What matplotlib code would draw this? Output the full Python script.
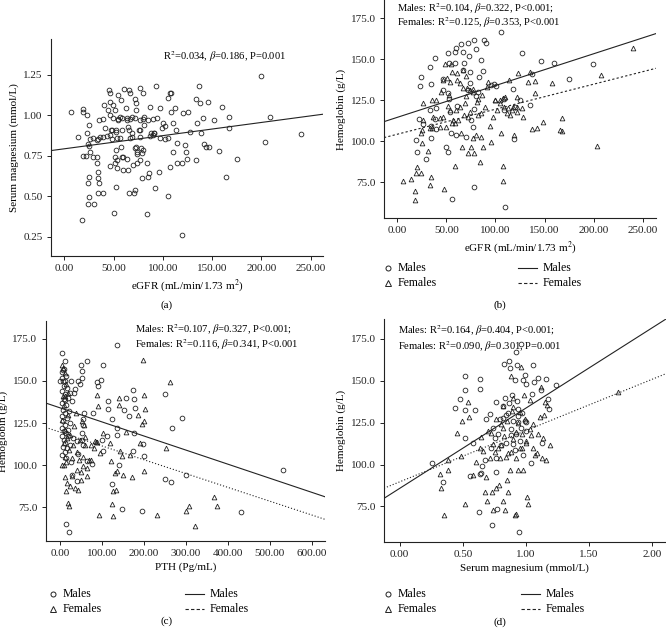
import matplotlib
matplotlib.use("Agg")
import matplotlib.pyplot as plt
from matplotlib.lines import Line2D
from matplotlib.ticker import FormatStrFormatter

plt.rcParams['font.family'] = ['Liberation Serif', 'DejaVu Serif']
plt.rcParams['mathtext.fontset'] = 'stix'
plt.rcParams['font.size'] = 8

# (a) eGFR vs serum magnesium
a_egfr = [6.4, 13.9, 18.6, 19.3, 22.7, 19.3, 22.0, 23.3, 25.4, 24.4,
          25.4, 26.0, 25.4, 24.4, 25.0, 23.7, 30.4, 18.3, 28.8, 32.8,
          32.8, 33.8, 33.8, 34.8, 33.8, 39.6, 32.8, 36.1, 35.5, 39.6,
          41.3, 43.0, 40.3, 44.7, 46.4, 45.4, 46.4, 46.0, 46.4, 48.1,
          49.7, 50.4, 51.4, 52.0, 53.0, 52.4, 51.4, 51.8, 53.0, 52.7,
          46.4, 54.1, 54.8, 56.5, 57.5, 57.2, 59.6, 59.2, 60.6, 62.6,
          63.3, 65.0, 65.0, 65.6, 66.0, 66.6, 68.3, 68.3, 69.4, 71.1,
          71.7, 71.7, 72.7, 72.4, 72.7, 73.4, 74.1, 76.8, 76.1, 77.8,
          78.5, 79.2, 80.2, 80.9, 81.2, 83.6, 83.6, 85.2, 86.3, 86.9,
          89.6, 91.0, 92.0, 92.7, 93.7, 96.4, 97.0, 98.8, 100.4, 102.1,
          104.9, 105.5, 105.5, 107.2, 108.8, 107.2, 107.9, 109.9, 110.6, 112.3,
          113.0, 114.0, 114.7, 119.1, 119.1, 120.8, 122.4, 123.1, 124.1, 125.8,
          128.1, 134.0, 134.0, 135.0, 136.3, 137.3, 139.0, 140.7, 141.3, 144.0,
          145.6, 147.3, 152.3, 157.4, 159.7, 164.0, 166.8, 167.5, 175.3, 199.3,
          203.6, 208.7, 239.9,
          49.7, 54.8, 58.2, 63.3, 66.7, 71.7, 76.8, 80.2, 85.2, 90.3,
          47.0, 52.0, 58.8, 65.5, 68.9, 77.3, 87.5, 90.8,
          26.0, 29.4, 34.5, 39.6, 48.0, 56.5, 66.6, 76.8, 87.0, 97.1, 102.1,
          71.7, 73.4, 80.2, 76.8, 53.2, 58.2, 63.3]
a_mg = [1.02, 0.863, 1.04, 1.018, 1.0, 0.75, 0.748, 0.888, 0.94, 0.822,
        0.81, 0.775, 0.62, 0.583, 0.497, 0.45, 0.45, 0.35, 0.744, 0.744,
        0.707, 0.651, 0.61, 0.58, 0.522, 0.522, 0.847, 0.867, 0.97, 0.974,
        0.919, 0.871, 1.063, 1.032, 0.878, 1.155, 1.139, 1.079, 1.0, 0.908,
        1.063, 0.394, 1.032, 0.898, 0.857, 0.785, 0.744, 0.703, 0.672, 0.559,
        0.688, 1.124, 0.97, 0.99, 1.094, 0.806, 0.74, 0.662, 1.16, 1.042,
        0.98, 0.929, 0.662, 0.522, 1.155, 1.135, 0.99, 0.867, 0.692, 0.522,
        0.538, 1.098, 1.073, 1.032, 0.806, 0.76, 0.707, 1.166, 0.908, 0.795,
        0.764, 0.61, 1.135, 0.99, 0.939, 0.39, 0.703, 0.62, 0.641, 1.052,
        0.878, 0.888, 0.552, 1.18, 0.98, 0.651, 1.042, 0.919, 0.95, 0.933,
        0.857, 1.104, 0.5, 1.135, 1.135, 0.682, 1.02, 0.95, 0.775, 1.042,
        0.908, 0.826, 0.703, 0.703, 0.26, 1.01, 0.816, 0.775, 0.727, 1.02,
        0.898, 0.723, 1.102, 0.95, 1.18, 1.073, 0.888, 0.98, 0.82, 0.8,
        1.079, 0.8, 0.97, 0.779, 1.052, 0.62, 0.99, 0.919, 0.727, 1.242,
        0.833, 0.99, 0.882,
        0.98, 0.975, 0.98, 0.97, 0.975, 0.98, 0.97, 0.975, 0.97, 0.975,
        0.91, 0.905, 0.905, 0.91, 0.89, 0.905, 0.89, 0.888,
        0.855, 0.86, 0.852, 0.865, 0.855, 0.86, 0.86, 0.862, 0.868, 0.86, 0.852,
        0.796, 0.775, 0.785, 0.723, 0.723, 0.74, 0.728]
a_fit = (0.792, 0.000813)   # intercept, slope

# (b) eGFR vs hemoglobin
b_m_egfr = [18.7, 20.0, 23.4, 24.4, 22.0, 26.1, 29.5, 32.9, 33.6, 33.9,
            34.6, 33.9, 38.0, 38.0, 39.7, 39.7, 46.5, 46.5, 49.9, 51.5,
            51.5, 53.2, 51.5, 53.2, 53.9, 54.9, 55.6, 58.3, 60.0, 58.3,
            60.0, 60.6, 65.0, 67.4, 66.7, 68.4, 70.2, 72.0, 73.0, 73.7,
            74.4, 74.7, 72.0, 77.0, 78.6, 80.3, 78.6, 78.6, 80.3, 82.0,
            83.6, 85.3, 87.0, 88.7, 90.4, 95.5, 98.9, 100.6, 105.8, 108.2,
            109.2, 110.2, 117.7, 118.7, 119.4, 127.1, 134.7, 137.0, 146.5, 160.1,
            175.4, 199.8, 124.5]
b_m_hb = [100.8, 93.7, 133.7, 139.0, 113.4, 110.6, 89.0, 119.1, 145.5, 135.0,
          102.2, 109.3, 150.8, 113.5, 120.5, 107.4, 131.3, 137.8, 96.3, 93.7,
          153.7, 147.6, 129.3, 125.6, 118.1, 104.9, 65.0, 154.7, 156.7, 148.0,
          103.9, 121.5, 159.3, 154.7, 143.5, 147.6, 102.8, 160.2, 151.8, 142.5,
          135.4, 113.0, 131.3, 108.9, 161.8, 156.1, 71.9, 119.5, 127.8, 130.3,
          139.4, 149.6, 143.1, 161.6, 159.8, 134.3, 135.0, 133.7, 166.9, 125.6,
          119.1, 60.2, 131.7, 101.2, 121.1, 154.1, 122.2, 141.1, 149.2, 148.0,
          138.0, 147.0, 125.2]
b_f_egfr = [6.1, 13.6, 17.6, 18.3, 18.7, 20.0, 24.4, 25.4, 24.4, 26.1,
            31.2, 32.9, 33.6, 34.6, 35.6, 39.7, 36.3, 43.1, 44.8, 46.5,
            47.5, 48.2, 49.9, 51.5, 53.2, 54.9, 55.9, 56.6, 58.3, 59.3,
            60.0, 61.0, 63.4, 65.0, 65.7, 66.7, 68.4, 69.4, 70.2, 70.2,
            72.0, 73.7, 75.3, 77.0, 78.6, 80.3, 81.0, 82.6, 84.3, 85.0,
            85.3, 86.0, 87.6, 89.4, 91.1, 92.1, 94.5, 95.2, 97.9, 99.6,
            101.3, 104.7, 105.4, 107.4, 107.4, 108.2, 109.9, 111.5, 114.2, 114.9,
            118.3, 119.0, 121.7, 121.7, 123.4, 126.8, 128.5, 133.6, 135.3, 137.6,
            140.3, 140.3, 142.0, 148.1, 158.0, 167.5, 165.8, 168.2, 203.2, 207.6,
            239.8,
            70.6, 74.0, 77.3, 76.8, 72.2, 82.4, 62.0, 55.3, 43.4, 35.0,
            24.8, 26.4, 46.8, 50.3, 53.6, 60.4, 67.1, 63.8, 53.6, 99.4,
            104.5, 107.8, 112.9, 116.4, 121.5]
b_f_hb = [75.8, 76.8, 69.9, 64.2, 80.9, 84.5, 80.9, 98.8, 104.9, 123.2,
          94.3, 73.4, 108.0, 78.0, 125.2, 125.2, 115.0, 114.0, 130.3, 115.0,
          70.9, 147.0, 108.9, 121.5, 128.3, 147.2, 142.5, 113.0, 111.0, 85.2,
          119.1, 137.4, 135.4, 104.9, 96.7, 132.3, 116.1, 123.2, 127.6, 139.8,
          93.1, 118.1, 96.7, 101.8, 93.1, 103.9, 124.2, 125.6, 87.2, 102.9,
          117.1, 128.3, 96.7, 121.1, 133.3, 136.4, 109.3, 99.8, 115.0, 125.2,
          119.1, 125.2, 104.9, 85.2, 75.8, 121.1, 127.2, 117.1, 137.4, 116.1,
          121.1, 103.9, 121.1, 126.8, 141.5, 120.1, 115.0, 136.4, 142.1, 107.6,
          136.9, 129.3, 108.0, 112.0, 135.4, 114.0, 106.9, 106.3, 97.2, 140.4,
          157.1,
          132.3, 131.3, 130.2, 131.8, 115.0, 116.0, 113.0, 111.0, 108.9, 107.9,
          106.9, 113.0, 137.4, 138.4, 136.3, 141.5, 143.5, 121.1, 119.1, 125.2,
          123.2, 126.2, 120.1, 119.1, 118.0]
b_fit_m = (114.6, 0.194)
b_fit_f = (104.3, 0.1527)

# (c) PTH vs hemoglobin
c_m_pth = [5.6, 11.9, 7.9, 4.0, 0.0, 11.9, 15.9, 23.8, 11.9, 35.8,
           43.7, 47.7, 51.7, 50.1, 51.7, 65.4, 58.0, 55.6, 55.6, 51.7,
           51.7, 54.0, 39.7, 39.7, 43.7, 25.4, 27.8, 13.5, 22.3, 65.4,
           75.5, 79.5, 87.4, 91.4, 97.4, 103.3, 99.4, 103.3, 111.3, 115.2,
           115.2, 123.2, 123.2, 137.0, 135.1, 136.5, 140.5, 146.8, 153.0, 156.9,
           164.9, 174.8, 176.4, 178.8, 173.2, 177.2, 194.7, 197.1, 200.3, 250.4,
           251.2, 263.8, 266.2, 290.0, 299.6, 430.8, 530.9,
           5, 8, 10, 6, 12, 9, 4, 14, 7, 11, 5, 16, 8, 13, 6, 10, 15, 4, 9, 12,
           7, 17, 11, 6, 14, 20, 22, 25, 18, 28, 30, 24, 33, 19, 26, 9, 14]
c_m_hb = [166.7, 162.1, 156.7, 155.2, 149.8, 149.8, 145.8, 142.9, 138.9, 145.2,
          149.8, 148.4, 155.8, 159.7, 151.8, 161.7, 131.0, 127.4, 124.0, 119.0,
          115.1, 112.1, 114.1, 90.7, 106.7, 101.8, 94.2, 64.9, 59.9, 102.2,
          100.6, 131.0, 149.2, 147.2, 150.8, 159.7, 114.7, 108.1, 117.1, 137.9,
          133.5, 127.4, 88.9, 122.0, 171.6, 118.0, 100.2, 73.8, 132.9, 139.9,
          129.0, 144.8, 139.0, 133.9, 108.5, 119.0, 72.8, 112.5, 105.6, 91.7,
          142.3, 89.7, 122.0, 128.0, 93.8, 72.0, 96.8,
          152, 150, 147, 144, 142, 139, 137, 136, 133, 131, 129, 128, 126, 124,
          122, 120, 119, 117, 115, 113, 111, 110, 108, 106, 104, 140, 132, 125,
          121, 138, 116, 112, 143, 117, 150, 157, 153]
c_f_pth = [4.0, 11.9, 10.3, 11.9, 15.9, 14.3, 19.9, 22.3, 23.8, 27.8,
           35.8, 41.3, 42.1, 49.3, 50.1, 54.0, 57.2, 65.4, 59.6, 73.1,
           83.5, 87.4, 87.4, 89.8, 93.8, 95.4, 103.3, 119.2, 121.6, 124.8,
           125.6, 127.2, 131.1, 132.7, 135.1, 140.6, 140.6, 143.0, 147.0, 149.4,
           156.6, 167.0, 171.0, 186.9, 190.7, 194.7, 197.1, 201.1, 202.7, 201.1,
           201.1, 230.5, 252.8, 262.3, 299.6, 307.5, 321.8, 368.0, 375.2,
           8, 12, 15, 7, 18, 10, 20, 6, 13, 17, 9, 22, 11, 15, 5, 25, 28, 30,
           34, 38, 40, 45, 48, 52, 55, 60, 65, 70, 75, 80, 85]
c_f_hb = [159.3, 140.9, 100.2, 92.9, 89.3, 84.3, 77.4, 75.8, 87.3, 93.6,
          86.3, 97.2, 85.3, 91.3, 95.6, 99.2, 124.0, 93.6, 116.7, 103.2,
          114.3, 113.7, 141.9, 135.0, 70.4, 107.1, 119.0, 113.1, 102.2, 77.0,
          84.3, 69.4, 95.2, 84.9, 96.2, 139.9, 135.9, 108.5, 105.6, 94.2,
          119.4, 106.2, 92.7, 130.0, 113.1, 124.4, 162.7, 141.9, 133.1, 126.0,
          96.6, 70.2, 110.1, 149.4, 72.8, 75.8, 63.9, 81.0, 75.8,
          158, 155, 148, 141, 143, 136, 130, 127, 121, 116, 113, 109, 105, 102,
          100, 118, 104, 112, 123, 131, 108, 103, 115, 126, 105, 112, 98, 103,
          112, 110, 114]
c_fit_m = (134.05, -0.0838)
c_fit_f = (119.6, -0.0822)

# (d) serum magnesium vs hemoglobin
d_m_mg = [0.256, 0.343, 0.441, 0.481, 0.515, 0.515, 0.515, 0.52, 0.555, 0.581,
          0.594, 0.634, 0.639, 0.626, 0.634, 0.647, 0.655, 0.687, 0.713, 0.766,
          0.74, 0.753, 0.734, 0.774, 0.766, 0.806, 0.819, 0.832, 0.824, 0.864,
          0.872, 0.893, 0.911, 0.919, 0.93, 0.938, 0.911, 0.946, 0.964, 0.978,
          0.996, 1.004, 1.038, 1.049, 1.062, 1.096, 1.123, 1.131, 1.162, 1.176,
          1.184, 1.236, 0.885, 0.938, 1.057, 1.004, 0.845, 0.793,
          0.82, 0.86, 0.9, 0.94, 0.97, 0.88, 0.92, 0.96, 0.99, 0.84,
          0.9, 0.95, 0.98, 1.0, 0.87, 0.93, 0.78, 0.72, 0.68, 0.76]
d_m_hb = [100.7, 89.9, 133.8, 139.4, 132.4, 115.6, 144.7, 153.0, 93.4, 112.6,
          132.8, 145.3, 150.8, 71.6, 94.2, 95.2, 99.2, 127.5, 129.9, 137.4,
          121.9, 115.6, 64.1, 73.6, 95.8, 111.6, 134.8, 139.8, 160.1, 162.1,
          157.6, 141.3, 150.2, 167.5, 159.2, 133.4, 108.7, 59.6, 172.0, 150.2,
          153.2, 148.3, 100.7, 142.3, 149.3, 151.6, 144.3, 112.6, 150.8, 139.4,
          133.1, 147.3, 117.6, 125.5, 159.2, 125.5, 129.5, 127.5,
          128, 131, 126, 129, 131, 121, 118, 122, 126, 113,
          112, 114, 106, 120, 137, 138, 118, 110, 103, 104]
d_f_mg = [0.317, 0.325, 0.349, 0.383, 0.383, 0.454, 0.489, 0.494, 0.515, 0.541,
          0.55, 0.581, 0.608, 0.634, 0.647, 0.674, 0.681, 0.692, 0.713, 0.727,
          0.734, 0.74, 0.753, 0.761, 0.766, 0.787, 0.793, 0.806, 0.819, 0.819,
          0.832, 0.845, 0.851, 0.859, 0.872, 0.885, 0.885, 0.898, 0.911, 0.919,
          0.925, 0.938, 0.951, 0.964, 0.972, 0.978, 0.983, 0.991, 1.004, 1.009,
          1.017, 1.03, 1.044, 1.057, 1.07, 1.088, 1.11, 1.123, 1.131, 1.136,
          1.141, 1.149, 1.162, 1.17, 1.731, 1.189,
          0.8, 0.85, 0.89, 0.94, 0.97, 0.83, 0.9, 0.95, 1.0, 1.03,
          0.78, 0.86, 0.92, 0.74, 0.7, 0.66, 1.06, 1.1, 0.82, 0.9]
d_f_hb = [94.2, 85.9, 70.0, 96.8, 102.7, 119.0, 105.3, 126.1, 76.2, 137.4,
          128.3, 93.8, 101.7, 109.7, 116.6, 83.9, 92.8, 78.0, 103.7, 118.6,
          83.9, 73.0, 107.7, 127.1, 85.9, 87.9, 103.7, 111.6, 78.0, 121.9,
          73.0, 104.7, 90.8, 83.9, 96.8, 107.7, 152.8, 134.4, 70.0, 70.6,
          119.6, 96.8, 131.4, 158.2, 109.7, 96.8, 141.3, 127.5, 112.6, 80.9,
          76.2, 138.4, 117.6, 109.7, 105.7, 106.7, 128.5, 146.3, 103.7, 115.6,
          129.5, 137.4, 102.7, 135.4, 143.3, 111.6,
          124, 126, 132, 125, 118, 117, 115, 110, 114, 121,
          110, 107, 104, 112, 120, 108, 124, 118, 135, 140]
d_fit_m = (85.8, 47.9)
d_fit_f = (89.7, 30.6)

W, H = 666, 636
ink = '#222222'


def fx(x):
    return x / W


def fy(y):
    return 1 - y / H


def make_axes(left, top, right, bottom):
    ax = fig.add_axes([fx(left), fy(bottom), fx(right - left), (bottom - top) / H])
    ax.spines['top'].set_visible(False)
    ax.spines['right'].set_visible(False)
    for s in ['left', 'bottom']:
        ax.spines[s].set_linewidth(0.8)
        ax.spines[s].set_color(ink)
    ax.tick_params(direction='out', length=3, width=0.7, colors=ink, labelsize=8, pad=3)
    return ax


def scatter(ax, x, y, marker):
    ax.plot(x, y, linestyle='none', marker=marker, markersize=3.4,
            markerfacecolor='none', markeredgecolor=ink, markeredgewidth=0.6)


def fit_line(ax, fit, ls):
    ax.axline((0, fit[0]), slope=fit[1], color=ink, linewidth=0.8, linestyle=ls)


def note(x, y, s, size=7.6):
    fig.text(fx(x), fy(y), s, va='baseline', fontsize=size)


def legend(y_top, x_mark, x_line):
    fig.add_artist(Line2D([fx(x_mark)], [fy(y_top)], marker='o', markersize=3.6,
                          markerfacecolor='none', markeredgecolor=ink, markeredgewidth=0.7))
    fig.add_artist(Line2D([fx(x_mark)], [fy(y_top + 15)], marker='^', markersize=3.8,
                          markerfacecolor='none', markeredgecolor=ink, markeredgewidth=0.7))
    fig.text(fx(x_mark + 10), fy(y_top), 'Males', va='center', fontsize=8.5)
    fig.text(fx(x_mark + 10), fy(y_top + 15), 'Females', va='center', fontsize=8.5)
    fig.add_artist(Line2D([fx(x_line), fx(x_line + 19)], [fy(y_top)] * 2, color=ink, linewidth=0.8))
    fig.add_artist(Line2D([fx(x_line), fx(x_line + 19)], [fy(y_top + 15)] * 2, color=ink,
                          linewidth=0.8, linestyle=(0, (3, 2))))
    fig.text(fx(x_line + 25), fy(y_top), 'Males', va='center', fontsize=8.5)
    fig.text(fx(x_line + 25), fy(y_top + 15), 'Females', va='center', fontsize=8.5)


fig = plt.figure(figsize=(6.66, 6.36), dpi=100)

# panel a
ax = make_axes(51, 39, 323, 256)
scatter(ax, a_egfr, a_mg, 'o')
fit_line(ax, a_fit, '-')
ax.set_xlim(-13.5, 262.6)
ax.set_ylim(0.13, 1.47)
ax.set_xticks([0, 50, 100, 150, 200, 250])
ax.set_yticks([0.25, 0.5, 0.75, 1.0, 1.25])
ax.xaxis.set_major_formatter(FormatStrFormatter('%.2f'))
ax.yaxis.set_major_formatter(FormatStrFormatter('%.2f'))
ax.set_xlabel('eGFR (mL/min/1.73 m$^2$)', fontsize=8, labelpad=3)
ax.set_ylabel('Serum magnesium (mmol/L)', fontsize=8, labelpad=3)
note(163, 60, r'R$^2$=0.034, $\beta$=0.186, P=0.001')
fig.text(fx(167), fy(305), '(a)', ha='center', va='center', fontsize=8)

# panel b
ax = make_axes(384, 0, 656, 218)
scatter(ax, b_m_egfr, b_m_hb, 'o')
scatter(ax, b_f_egfr, b_f_hb, '^')
fit_line(ax, b_fit_m, '-')
fit_line(ax, b_fit_f, (0, (2, 2)))
ax.set_xlim(-13.5, 263.5)
ax.set_ylim(53.2, 186.2)
ax.set_xticks([0, 50, 100, 150, 200, 250])
ax.set_yticks([75, 100, 125, 150, 175])
ax.xaxis.set_major_formatter(FormatStrFormatter('%.2f'))
ax.yaxis.set_major_formatter(FormatStrFormatter('%.1f'))
ax.set_xlabel('eGFR (mL/min/1.73 m$^2$)', fontsize=8, labelpad=3)
ax.set_ylabel('Hemoglobin (g/L)', fontsize=8, labelpad=3)
# both lines in one text block, they sit very close to the top edge
fig.text(fx(396.7), fy(1), 'Males: R$^2$=0.104, $\\beta$=0.322, P<0.001;\n'
         'Females: R$^2$=0.125, $\\beta$=0.353, P<0.001',
         va='top', fontsize=7.6, linespacing=0.95)
legend(268, 388, 518)
fig.text(fx(500), fy(305), '(b)', ha='center', va='center', fontsize=8)

# panel c
ax = make_axes(45.7, 321, 325, 541)
scatter(ax, c_m_pth, c_m_hb, 'o')
scatter(ax, c_f_pth, c_f_hb, '^')
fit_line(ax, c_fit_m, '-')
fit_line(ax, c_fit_f, (0, (1, 1.8)))
ax.set_xlim(-34, 631.7)
ax.set_ylim(54.8, 185.7)
ax.set_xticks([0, 100, 200, 300, 400, 500, 600])
ax.set_yticks([75, 100, 125, 150, 175])
ax.xaxis.set_major_formatter(FormatStrFormatter('%.2f'))
ax.yaxis.set_major_formatter(FormatStrFormatter('%.1f'))
ax.set_xlabel('PTH (Pg/mL)', fontsize=8, labelpad=3)
ax.set_ylabel('Hemoglobin (g/L)', fontsize=8, labelpad=3)
note(135, 333, r'Males: R$^2$=0.107, $\beta$=0.327, P<0.001;')
note(135, 347.5, r'Females: R$^2$=0.116, $\beta$=0.341, P<0.001')
legend(594, 53, 185)
fig.text(fx(167), fy(621), '(c)', ha='center', va='center', fontsize=8)

# panel d
ax = make_axes(384, 319, 665.7, 542)
scatter(ax, d_m_mg, d_m_hb, 'o')
scatter(ax, d_f_mg, d_f_hb, '^')
fit_line(ax, d_fit_m, '-')
fit_line(ax, d_fit_f, (0, (1, 1.8)))
ax.set_xlim(-0.124, 2.108)
ax.set_ylim(53.8, 186.9)
ax.set_xticks([0, 0.5, 1.0, 1.5, 2.0])
ax.set_yticks([75, 100, 125, 150, 175])
ax.xaxis.set_major_formatter(FormatStrFormatter('%.2f'))
ax.yaxis.set_major_formatter(FormatStrFormatter('%.1f'))
ax.set_xlabel('Serum magnesium (mmol/L)', fontsize=8, labelpad=3)
ax.set_ylabel('Hemoglobin (g/L)', fontsize=8, labelpad=3)
note(397.7, 333.7, r'Males: R$^2$=0.164, $\beta$=0.404, P<0.001;')
note(397.7, 350.3, r'Females: R$^2$=0.090, $\beta$=0.301, P=0.001')
legend(594, 388, 521)
fig.text(fx(500), fy(622), '(d)', ha='center', va='center', fontsize=8)

fig.savefig('out.png', dpi=100)
